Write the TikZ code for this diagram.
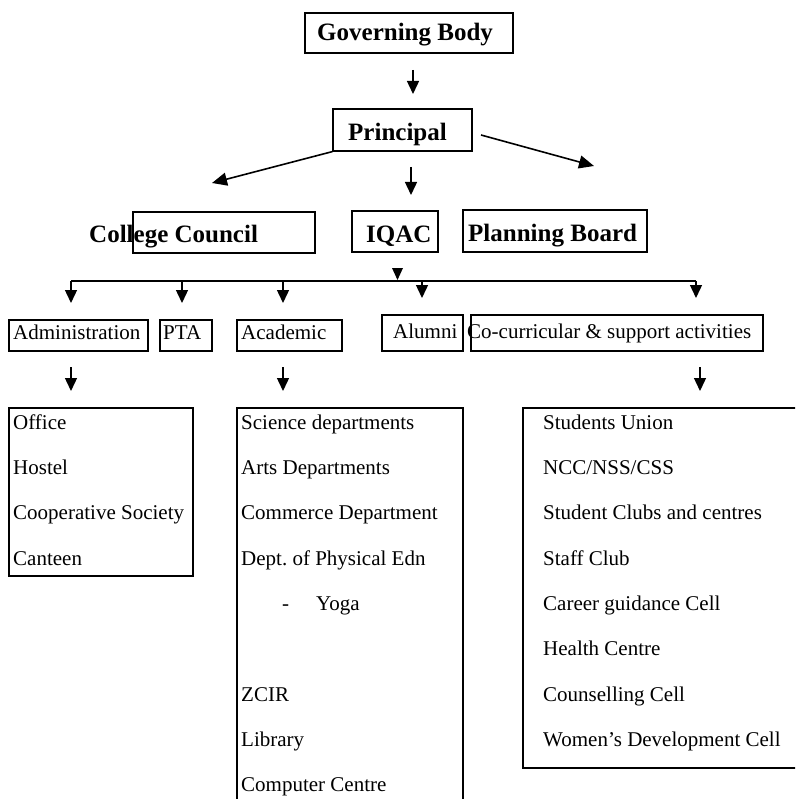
\documentclass[tikz,border=0pt]{standalone}
\usepackage{fontspec}
\setmainfont{Liberation Serif}
\usetikzlibrary{arrows.meta}
\frenchspacing
\tikzset{
  box/.style={draw, line width=1.2pt, inner sep=0pt, rectangle},
  hd/.style={anchor=base west, inner sep=0pt, font=\fontsize{25}{30}\selectfont\bfseries},
  tx/.style={anchor=base west, inner sep=0pt, font=\fontsize{21}{25}\selectfont},
  arr/.style={-{Triangle[length=13pt,width=12pt]}, line width=1.4pt},
  darr/.style={-{Triangle[length=15pt,width=13pt]}, line width=1.6pt},
  bus/.style={line width=1.3pt}
}
\begin{document}
\begin{tikzpicture}[x=1pt,y=-1pt]
\useasboundingbox (0,0) rectangle (795,799);
\clip (0,0) rectangle (795,799);
% boxes
\node[box, minimum width=208pt, minimum height=40pt] (gb) at (409,33) {};
\node[box, minimum width=139pt, minimum height=42pt] (prin) at (402.5,130) {};
\node[box, minimum width=182pt, minimum height=41pt] (cc) at (224,232.5) {};
\node[box, minimum width=86pt, minimum height=41pt] (iqac) at (395,231.5) {};
\node[box, minimum width=184pt, minimum height=42pt] (pb) at (555,231) {};
\node[box, minimum width=139pt, minimum height=31pt] (adm) at (78.5,335.5) {};
\node[box, minimum width=52pt, minimum height=31pt] (pta) at (186,335.5) {};
\node[box, minimum width=105pt, minimum height=31pt] (acad) at (289.5,335.5) {};
\node[box, minimum width=81pt, minimum height=36pt] (alum) at (422.5,333) {};
\node[box, minimum width=292pt, minimum height=36pt] (cocur) at (617,333) {};
\node[box, minimum width=184pt, minimum height=168pt] (admlist) at (101,492) {};
\node[box, minimum width=226pt, minimum height=402pt] (acadlist) at (350,609) {};
\node[box, minimum width=282pt, minimum height=360pt] (cclist) at (664,588) {};
% headings
\node[hd] (tgb) at (317,41) {Governing Body};
\node[hd] (tprin) at (348,141) {Principal};
\node[hd] (tcc) at (89,243) {College Council};
\node[hd] (tiqac) at (366,243) {IQAC};
\node[hd] (tpb) at (468,242) {Planning Board};
% second level labels
\node[tx] (tadm) at (13,339) {Administration};
\node[tx] (tpta) at (163,339) {PTA};
\node[tx] (tacad) at (241,339) {Academic};
\node[tx] (talum) at (393,338) {Alumni};
\node[tx] (tcocur) at (467,338) {Co-curricular \& support activities};
% administration list
\node[tx] (a1) at (13,429) {Office};
\node[tx] (a2) at (13,474.3) {Hostel};
\node[tx] (a3) at (13,519.6) {Cooperative Society};
\node[tx] (a4) at (13,565) {Canteen};
% academic list
\node[tx] (b1) at (241,429) {Science departments};
\node[tx] (b2) at (241,474.3) {Arts Departments};
\node[tx] (b3) at (241,519.6) {Commerce Department};
\node[tx] (b4) at (241,565) {Dept.\ of Physical Edn};
\node[tx] (b5d) at (282,610) {-};
\node[tx] (b5) at (316,610) {Yoga};
\node[tx] (b6) at (241,701) {ZCIR};
\node[tx] (b7) at (241,746) {Library};
\node[tx] (b8) at (241,791) {Computer Centre};
% co-curricular list
\node[tx] (c1) at (543,429) {Students Union};
\node[tx] (c2) at (543,474.3) {NCC/NSS/CSS};
\node[tx] (c3) at (543,519.6) {Student Clubs and centres};
\node[tx] (c4) at (543,565) {Staff Club};
\node[tx] (c5) at (543,610) {Career guidance Cell};
\node[tx] (c6) at (543,655.5) {Health Centre};
\node[tx] (c7) at (543,701) {Counselling Cell};
\node[tx] (c8) at (543,746) {Women’s Development Cell};
% arrow coordinates
\coordinate (g1) at (413,70);  \coordinate (g2) at (413,94);
\coordinate (l2) at (212,183);
\coordinate (r1) at (481,135); \coordinate (r2) at (594,166);
\coordinate (m1) at (411,167); \coordinate (m2) at (411,195);
\coordinate (iqtip) at (397.5,280);
\coordinate (busL) at (71,281); \coordinate (busR) at (696,281);
\coordinate (d1) at (71,303); \coordinate (d2) at (182,303); \coordinate (d3) at (283,303);
\coordinate (d4) at (422,298); \coordinate (d5) at (696,298);
\coordinate (e1s) at (71,367); \coordinate (e1) at (71,391);
\coordinate (e2s) at (283,367); \coordinate (e2) at (283,391);
\coordinate (e3s) at (700,367); \coordinate (e3) at (700,391);
% arrows
\draw[arr] (g1) -- (g2);
\draw[darr] (prin.south west) -- (l2);
\draw[darr] (r1) -- (r2);
\draw[arr] (m1) -- (m2);
\fill (iqtip) -- ++(-5.5,-12) -- ++(11,0) -- cycle;
\draw[bus] (busL) -- (busR);
\draw[arr] (busL) -- (d1);
\draw[arr] (busL -| d2) -- (d2);
\draw[arr] (busL -| d3) -- (d3);
\draw[arr] (busL -| d4) -- (d4);
\draw[arr] (busR) -- (d5);
\draw[arr] (e1s) -- (e1);
\draw[arr] (e2s) -- (e2);
\draw[arr] (e3s) -- (e3);
\end{tikzpicture}
\end{document}
